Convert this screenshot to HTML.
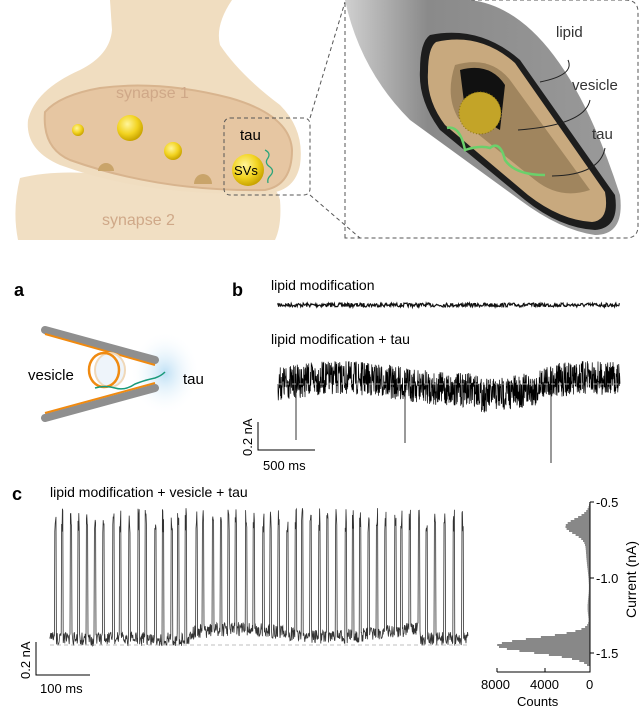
<!DOCTYPE html>
<html><head><meta charset="utf-8"><style>
body{margin:0;width:640px;height:714px;overflow:hidden;background:#fff}
svg{display:block;font-family:"Liberation Sans",sans-serif}
</style></head><body>
<svg id="s" width="640" height="714" viewBox="0 0 640 714">
<defs>
<radialGradient id="ys" cx="40%" cy="35%" r="65%"><stop offset="0" stop-color="#fff59a"/><stop offset=".6" stop-color="#f2d320"/><stop offset="1" stop-color="#c9a400"/></radialGradient>
<radialGradient id="glow" cx="50%" cy="50%" r="50%"><stop offset="0" stop-color="#bfe0f5"/><stop offset="1" stop-color="#fff" stop-opacity="0"/></radialGradient>
<linearGradient id="tube" x1="0" y1="0" x2="1" y2="0"><stop offset="0" stop-color="#d0d0d0"/><stop offset=".3" stop-color="#8a8a8a"/><stop offset="1" stop-color="#9a9a9a"/></linearGradient>
</defs>
<path d="M20,178 Q60,168 120,176 Q190,186 240,180 Q275,178 280,200 Q282,225 275,240 L18,240 Q12,210 20,178Z" fill="#f1dfc3"/>
<path d="M110,0 L232,0 Q215,25 220,45 Q240,75 280,105 Q305,130 300,165 Q295,190 270,193 Q150,198 60,165 Q25,150 28,120 Q35,90 80,70 Q110,55 112,30Z" fill="#f0ddc0"/>
<path d="M45,112 Q60,95 100,88 Q160,80 230,98 Q290,115 292,150 Q292,185 265,190 Q160,192 70,160 Q42,148 45,112Z" fill="#e6c6a2" stroke="#d8b48e" stroke-width="2"/>
<text x="116" y="98" font-size="16" fill="#cfa888">synapse 1</text>
<text x="102" y="225" font-size="16" fill="#cfa888">synapse 2</text>
<circle cx="78" cy="130" r="6" fill="url(#ys)"/>
<circle cx="130" cy="128" r="13" fill="url(#ys)"/>
<circle cx="173" cy="151" r="9" fill="url(#ys)"/>
<path d="M98,171 a8,8 0 0 1 16,0Z" fill="#c9a46a"/>
<path d="M194,184 a9,10 0 0 1 18,0Z" fill="#c9a46a"/>
<circle cx="248" cy="170" r="16" fill="url(#ys)"/>
<text x="234" y="175" font-size="13">SVs</text>
<text x="240" y="140" font-size="15">tau</text>
<path d="M265,150 q6,3 3,8 q-4,5 2,9 q5,4 0,9 q-3,3 -2,7" fill="none" stroke="#2aa57a" stroke-width="1.3"/>
<rect x="224" y="118" width="86" height="77" rx="6" fill="none" stroke="#555" stroke-dasharray="4,3"/>
<line x1="310" y1="118" x2="345" y2="2" stroke="#555" stroke-dasharray="4,3"/>
<line x1="310" y1="195" x2="360" y2="238" stroke="#555" stroke-dasharray="4,3"/>
<path d="M345,238 L345,0 L625,0 Q638,0 638,12 L638,226 Q638,238 626,238Z" fill="none" stroke="#555" stroke-dasharray="4,3"/>
<path d="M345,0 L470,0 Q560,10 620,195 Q625,235 595,235 Q560,230 520,200 L410,120 Q360,70 345,0Z" fill="url(#tube)"/>
<path d="M430,35 Q480,25 520,60 L615,195 Q620,228 595,230 Q560,228 525,200 L440,130 Q418,100 420,70 Q420,42 430,35Z" fill="#1d1d1d"/>
<path d="M436,42 Q480,32 515,63 L605,192 Q610,220 592,222 Q560,220 528,195 L445,125 Q426,100 428,72 Q428,48 436,42Z" fill="#c8a97e"/>
<path d="M455,65 Q490,55 510,80 L590,190 Q560,200 535,180 L458,118 Q445,95 455,65Z" fill="#a0855e"/>
<path d="M460,70 Q490,62 505,85 L500,130 L465,110Z" fill="#111"/>
<circle cx="480" cy="113" r="21" fill="#c3a428"/>
<circle cx="480" cy="113" r="21" fill="none" stroke="#8a7410" stroke-dasharray="1,2"/>
<path d="M447,128 Q460,125 465,150 Q480,145 490,148 Q500,140 505,160 Q515,175 545,175" fill="none" stroke="#6bd06b" stroke-width="2.5"/>
<text x="556" y="37" font-size="15" fill="#333">lipid</text>
<text x="572" y="90" font-size="15" fill="#333">vesicle</text>
<text x="592" y="139" font-size="15" fill="#333">tau</text>
<path d="M568,60 Q575,75 540,82" fill="none" stroke="#222"/>
<path d="M590,100 Q585,125 518,130" fill="none" stroke="#222"/>
<path d="M605,148 Q600,175 552,176" fill="none" stroke="#222"/>
<text x="14" y="296" font-size="18" font-weight="bold">a</text>
<ellipse cx="165" cy="373" rx="35" ry="42" fill="url(#glow)"/>
<line x1="45" y1="330" x2="155" y2="360" stroke="#8f8f8f" stroke-width="8" stroke-linecap="round"/>
<line x1="45" y1="334" x2="155" y2="365" stroke="#f08a10" stroke-width="2"/>
<line x1="45" y1="418" x2="155" y2="388" stroke="#8f8f8f" stroke-width="8" stroke-linecap="round"/>
<line x1="45" y1="413" x2="155" y2="383" stroke="#f08a10" stroke-width="2"/>
<ellipse cx="110" cy="370" rx="15" ry="17" fill="#eef4fa" stroke="#f0d8b8" stroke-width="2"/>
<ellipse cx="104" cy="370" rx="15" ry="17" fill="none" stroke="#f08a10" stroke-width="2.5"/>
<path d="M95,388 q10,-3 20,0 q10,3 20,-4 q10,-4 20,-6 q6,-2 10,-6" fill="none" stroke="#1a9a7a" stroke-width="1.5"/>
<text x="28" y="380" font-size="15">vesicle</text>
<text x="183" y="384" font-size="15">tau</text>
<text x="232" y="296" font-size="18" font-weight="bold">b</text>
<text x="271" y="290" font-size="14">lipid modification</text>
<text x="271" y="344" font-size="14">lipid modification + tau</text>
<g id="tb"></g>
<line x1="278" y1="384" x2="620" y2="384" stroke="#ccc" stroke-dasharray="4,3" stroke-width=".8"/>
<path d="M258,422 L258,450 L315,450" fill="none" stroke="#000"/>
<text transform="translate(252,456) rotate(-90)" font-size="13">0.2 nA</text>
<text x="263" y="470" font-size="13">500 ms</text>
<text x="12" y="500" font-size="18" font-weight="bold">c</text>
<text x="50" y="497" font-size="14">lipid modification + vesicle + tau</text>
<g id="tc"></g>
<line x1="50" y1="645" x2="468" y2="645" stroke="#aaa" stroke-dasharray="4,3" stroke-width=".8"/>
<path d="M36,642 L36,675 L90,675" fill="none" stroke="#000"/>
<text transform="translate(30,679) rotate(-90)" font-size="13">0.2 nA</text>
<text x="40" y="693" font-size="13">100 ms</text>
<g id="hist"></g>
<path d="M590,502 L590,672 L497,672" fill="none" stroke="#000"/>
<line x1="590" y1="502" x2="594" y2="502" stroke="#000"/><line x1="590" y1="578" x2="594" y2="578" stroke="#000"/><line x1="590" y1="653" x2="594" y2="653" stroke="#000"/>
<line x1="497" y1="672" x2="497" y2="668" stroke="#000"/><line x1="545" y1="672" x2="545" y2="668" stroke="#000"/>
<text x="596" y="507" font-size="13">-0.5</text>
<text x="596" y="583" font-size="13">-1.0</text>
<text x="596" y="658" font-size="13">-1.5</text>
<text x="481" y="689" font-size="13">8000</text>
<text x="530" y="689" font-size="13">4000</text>
<text x="586" y="689" font-size="13">0</text>
<text x="517" y="706" font-size="13">Counts</text>
<text transform="translate(636,618) rotate(-90)" font-size="14">Current (nA)</text>
</svg>
<script>
var seed=7;function r(){seed=(seed*16807)%2147483647;return seed/2147483647;}
var NS="http://www.w3.org/2000/svg";
function path(g,d,c,w){var p=document.createElementNS(NS,"path");p.setAttribute("d",d);p.setAttribute("fill","none");p.setAttribute("stroke",c);p.setAttribute("stroke-width",w);document.getElementById(g).appendChild(p);}
var d="M278,305";for(var x=278;x<=620;x+=0.6){d+="L"+x.toFixed(1)+","+(305+(r()-.5)*4).toFixed(1);}path("tb",d,"#111",1.2);
d="M278,384";for(var x=278;x<=620;x+=0.25){var base=384-6*Math.sin((x-278)/40)+(x>480&&x<540?6:0);d+="L"+x.toFixed(2)+","+(base+(r()-.5)*34).toFixed(1);}path("tb",d,"#000",.7);
path("tb","M296,390L296,440M405,390L405,443M551,390L551,463","#333",1);
d="M50,637";var sp=[];for(var i=0;i<50;i++)sp.push(52+i*8.3+r()*3);
for(var x=50;x<=468;x+=0.4){var y=641-(x>190&&x<420?8+4*Math.sin((x-190)/30):2)+(r()-.5)*14;
for(var j=0;j<sp.length;j++){var dx=x-sp[j];if(dx>=0&&dx<1.6){y=508+r()*25;}}
d+="L"+x.toFixed(1)+","+y.toFixed(1);}path("tc",d,"#333",.8);
var h="";for(var y=503;y<666;y+=2){var v=-0.5-(y-502)/151;var c=8000*Math.exp(-Math.pow((v+1.45)/0.07,2))+1900*Math.exp(-Math.pow((v+0.66)/0.07,2))+350*Math.exp(-Math.pow((v+0.8)/0.2,2))+200*Math.exp(-Math.pow((v+1.2)/0.1,2));var w=c/8000*93;h+="M"+(590-w).toFixed(1)+","+y+"L590,"+y;}
path("hist",h,"#888",2);
</script>
</body></html>
